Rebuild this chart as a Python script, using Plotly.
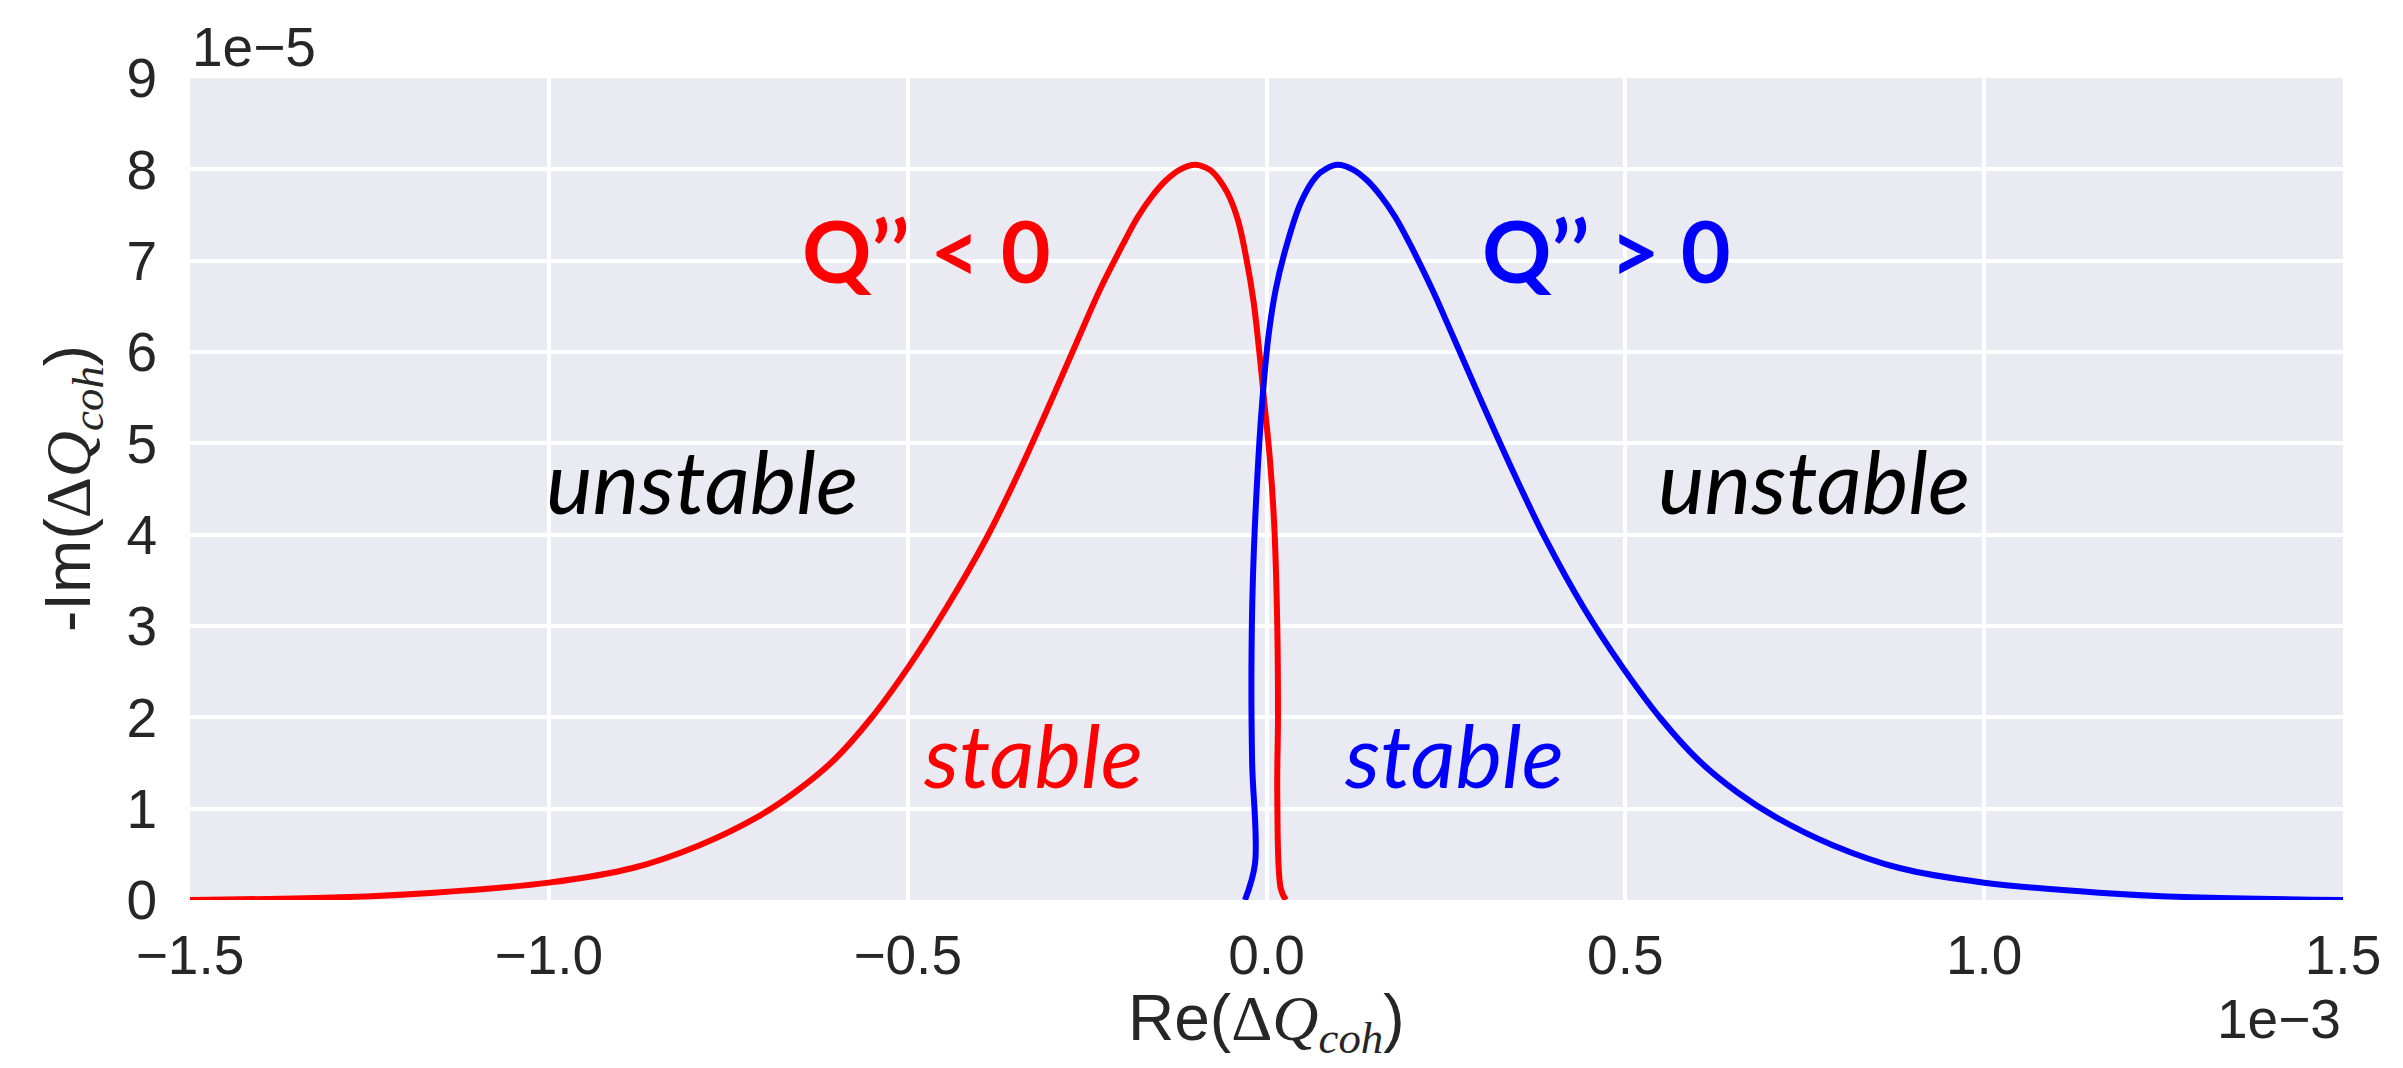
import plotly.graph_objects as go

# Coherent tune shift, Re in units of 1e-3, -Im in units of 1e-5
# Q'' > 0 branch (blue)
blue_re = [-0.030, -0.016, -0.020, -0.021, -0.019, -0.013, -0.006, 0.003, 0.013, 0.027,
           0.048, 0.069, 0.084, 0.099, 0.120, 0.140, 0.160, 0.180, 0.200, 0.230,
           0.260, 0.300, 0.346, 0.389, 0.442, 0.496, 0.549, 0.602, 0.656, 0.709,
           0.789, 0.882, 1.000, 1.160, 1.290, 1.500]
blue_im = [0.00, 0.40, 1.50, 2.50, 3.50, 4.60, 5.45, 6.19, 6.69, 7.14,
           7.64, 7.92, 8.01, 8.05, 8.00, 7.88, 7.70, 7.47, 7.18, 6.70,
           6.17, 5.45, 4.65, 3.95, 3.20, 2.55, 1.99, 1.53, 1.18, 0.91,
           0.60, 0.35, 0.19, 0.08, 0.03, 0.00]

# Q'' < 0 branch (red)
red_re = [0.027, 0.020, 0.015, 0.016, 0.015, 0.011, 0.005, -0.003, -0.010, -0.018,
          -0.028, -0.040, -0.055, -0.075, -0.085, -0.099, -0.120, -0.140, -0.160, -0.180,
          -0.200, -0.231, -0.261, -0.301, -0.347, -0.391, -0.446, -0.499, -0.551, -0.603,
          -0.657, -0.709, -0.790, -0.883, -1.000, -1.160, -1.290, -1.500]
red_im = [0.00, 0.12, 1.15, 2.00, 3.00, 4.07, 4.80, 5.45, 6.00, 6.55,
          7.02, 7.45, 7.75, 7.97, 8.02, 8.05, 8.00, 7.88, 7.70, 7.47,
          7.18, 6.70, 6.17, 5.45, 4.65, 3.95, 3.20, 2.55, 1.99, 1.53,
          1.18, 0.91, 0.60, 0.35, 0.19, 0.08, 0.03, 0.00]

x_ticks = [-1.5, -1.0, -0.5, 0.0, 0.5, 1.0, 1.5]
x_ticktext = ["\u22121.5", "\u22121.0", "\u22120.5", "0.0", "0.5", "1.0", "1.5"]
y_ticks = [0, 1, 2, 3, 4, 5, 6, 7, 8, 9]
y_ticktext = [str(v) for v in y_ticks]

TICK_FONT = dict(family="Liberation Sans, Arial, sans-serif", size=55, color="#262626")
TITLE_FONT = dict(family="Liberation Sans, Arial, sans-serif", size=64, color="#262626")
LABEL_FAMILY = "Lato, Carlito, sans-serif"
MATH = "font-family:'Liberation Serif', serif"

fig = go.Figure()
fig.add_trace(go.Scatter(x=red_re, y=red_im, mode="lines",
                         line=dict(color="#FF0000", width=6, shape="spline", smoothing=1.0),
                         hoverinfo="skip"))
fig.add_trace(go.Scatter(x=blue_re, y=blue_im, mode="lines",
                         line=dict(color="#0000FF", width=6, shape="spline", smoothing=1.0),
                         hoverinfo="skip"))

fig.update_layout(
    width=2403, height=1068,
    margin=dict(l=190, r=60, t=78, b=168),
    paper_bgcolor="white",
    plot_bgcolor="#EAEAF2",
    showlegend=False,
    xaxis=dict(range=[-1.5, 1.5], tickvals=x_ticks, ticktext=x_ticktext,
               showgrid=True, gridcolor="white", gridwidth=4, zeroline=False,
               showline=False, ticks="", tickfont=TICK_FONT, ticklabelstandoff=18),
    yaxis=dict(range=[0, 9], tickvals=y_ticks, ticktext=y_ticktext,
               showgrid=True, gridcolor="white", gridwidth=4, zeroline=False,
               showline=False, ticks="", tickfont=TICK_FONT, ticklabelstandoff=32),
)

annotations = [
    # axis offset labels
    dict(text="1e\u22125", xref="paper", yref="paper", x=0, y=1, xanchor="left",
         yanchor="bottom", showarrow=False, font=TICK_FONT, yshift=-2),
    dict(text="1e\u22123", xref="paper", yref="paper", x=1, y=0, xanchor="right",
         yanchor="top", showarrow=False, font=TICK_FONT, yshift=-86),
    # axis titles
    dict(text=f"Re(<span style=\"{MATH}\">\u0394<i>Q</i><sub><i>coh</i></sub></span>)",
         xref="paper", yref="paper", x=0.5, y=0, xanchor="center", yanchor="top",
         showarrow=False, yshift=-80, font=TITLE_FONT),
    dict(text=f"-Im(<span style=\"{MATH}\">\u0394<i>Q</i><sub><i>coh</i></sub></span>)",
         xref="paper", yref="paper", x=(72 - 190) / 2153, y=0.5, xanchor="center",
         yanchor="middle", textangle=-90, showarrow=False, font=TITLE_FONT),
    # region labels
    dict(text="<b>Q\u2019\u2019 < 0</b>", x=-0.474, y=7.12, xref="x", yref="y",
         showarrow=False, font=dict(family=LABEL_FAMILY, size=86, color="#FF0000")),
    dict(text="<b>Q\u2019\u2019 > 0</b>", x=0.474, y=7.12, xref="x", yref="y",
         showarrow=False, font=dict(family=LABEL_FAMILY, size=86, color="#0000FF")),
    dict(text="<i>unstable</i>", x=-0.786, y=4.6, xref="x", yref="y",
         showarrow=False, font=dict(family=LABEL_FAMILY, size=88, color="black")),
    dict(text="<i>unstable</i>", x=0.763, y=4.6, xref="x", yref="y",
         showarrow=False, font=dict(family=LABEL_FAMILY, size=88, color="black")),
    dict(text="<i>stable</i>", x=-0.325, y=1.6, xref="x", yref="y",
         showarrow=False, font=dict(family=LABEL_FAMILY, size=88, color="#FF0000")),
    dict(text="<i>stable</i>", x=0.261, y=1.6, xref="x", yref="y",
         showarrow=False, font=dict(family=LABEL_FAMILY, size=88, color="#0000FF")),
]
fig.update_layout(annotations=annotations)

fig.write_html("out.html")
